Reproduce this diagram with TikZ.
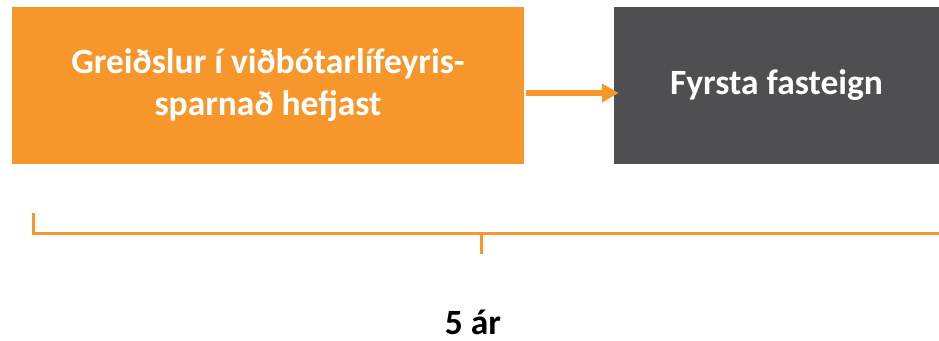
\documentclass[tikz,border=0pt]{standalone}
\usepackage{fontspec}
\setmainfont{Carlito}
\usetikzlibrary{calc,arrows.meta}
\definecolor{appelsina}{HTML}{F7962B}
\definecolor{grar}{HTML}{4F4F51}

\begin{document}
\begin{tikzpicture}[x=1pt,y=-1pt]
            \tikzstyle{every node}=[inner sep=0pt, font=\bfseries\fontsize{35.5}{42}\selectfont]
            \tikzstyle{kassi}=[minimum height=157pt, text=white, align=center]
            \useasboundingbox (0,0) rectangle (939,340);
            \node[kassi, fill=appelsina, minimum width=512pt] (greidslur) at (268,85.5) {Greiðslur í viðbótarlífeyris-\\sparnað hefjast};
            \node[kassi, fill=grar, minimum width=325pt] (fasteign) at (776.5,85.5) {Fyrsta fasteign};
            \draw[appelsina, line width=6pt, -{Triangle[length=17pt, width=18pt]}] ($(greidslur.east) + (2, 7.5)$) -- ($(fasteign.west) + (5, 7.5)$);
            \coordinate (upphaf) at (33,213);
            \coordinate (horn) at (33,233);
            \coordinate (endir) at (939,233);
            \coordinate (midja) at (481,233);
            \coordinate (midjaNidri) at ($(midja) + (0, 21)$);
            \draw[appelsina, line width=3pt] (upphaf)--(horn)--(endir);
            \draw[appelsina, line width=3pt] (midja)--(midjaNidri);
            \node[anchor=base] (ar) at (473,334) {5 ár};
        \end{tikzpicture}
\end{document}
